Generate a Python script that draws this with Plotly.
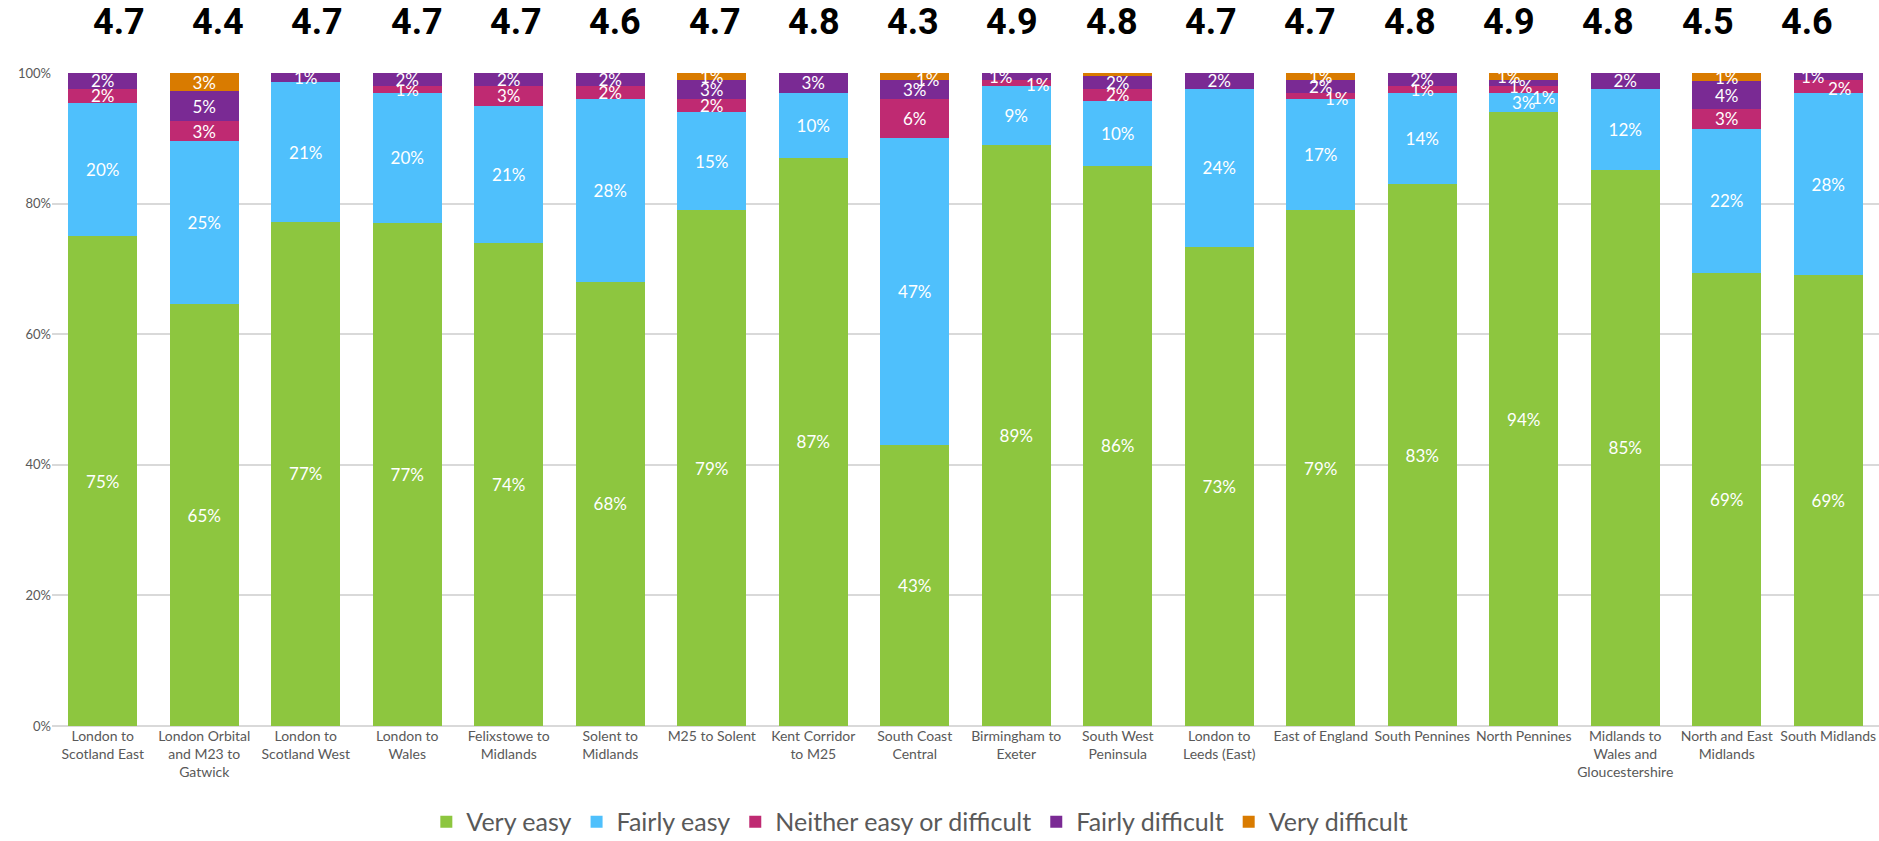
import plotly.graph_objects as go

# Route names (line breaks as they wrap under each bar)
routes = [
    "London to<br>Scotland East",
    "London Orbital<br>and M23 to<br>Gatwick",
    "London to<br>Scotland West",
    "London to<br>Wales",
    "Felixstowe to<br>Midlands",
    "Solent to<br>Midlands",
    "M25 to Solent",
    "Kent Corridor<br>to M25",
    "South Coast<br>Central",
    "Birmingham to<br>Exeter",
    "South West<br>Peninsula",
    "London to<br>Leeds (East)",
    "East of England",
    "South Pennines",
    "North Pennines",
    "Midlands to<br>Wales and<br>Gloucestershire",
    "North and East<br>Midlands",
    "South Midlands",
]

# Mean ease score shown above each route
mean_scores = ["4.7", "4.4", "4.7", "4.7", "4.7", "4.6", "4.7", "4.8", "4.3",
               "4.9", "4.8", "4.7", "4.7", "4.8", "4.9", "4.8", "4.5", "4.6"]

# Share of responses (%) per rating
very_easy = [75.0, 64.6, 77.2, 77, 74, 68, 79, 87, 43, 89, 85.8, 73.4, 79, 83, 94, 85.2, 69.3, 69]
fairly_easy = [20.4, 25.0, 21.4, 20, 21, 28, 15, 10, 47, 9, 9.9, 24.2, 17, 14, 3, 12.4, 22.2, 28]
neither = [2.2, 3.0, 0, 1, 3, 2, 2, 0, 6, 1, 1.9, 0, 1, 1, 1, 0, 3.0, 2]
fairly_difficult = [2.4, 4.6, 1.4, 2, 2, 2, 3, 3, 3, 1, 2.0, 2.4, 2, 2, 1, 2.4, 4.2, 1]
very_difficult = [0, 2.8, 0, 0, 0, 0, 1, 0, 1, 0, 0.4, 0, 1, 0, 1, 0, 1.3, 0]

series = [
    ("Very easy", very_easy, "#8DC63F"),
    ("Fairly easy", fairly_easy, "#4FC0FC"),
    ("Neither easy or difficult", neither, "#BF2A72"),
    ("Fairly difficult", fairly_difficult, "#7A2A94"),
    ("Very difficult", very_difficult, "#D97B00"),
]

# Thin segments whose labels are nudged sideways so they don't collide:
# (series name, route index) -> (x shift px, y shift px)
label_nudges = {
    ("Very difficult", 8): (13, -3),
    ("Fairly difficult", 9): (-15, 0),
    ("Neither easy or difficult", 9): (22, -2),
    ("Neither easy or difficult", 12): (16, -3),
    ("Very difficult", 14): (-15, 0),
    ("Fairly difficult", 14): (-3, -4),
    ("Neither easy or difficult", 14): (20, -8),
    ("Fairly difficult", 17): (-15, 0),
    ("Neither easy or difficult", 17): (12, -2),
}

BODY_FONT = "Lato, 'Open Sans', sans-serif"
GREY = "#595959"
LABEL_SIZE = 17

fig = go.Figure()
base = [0.0] * len(routes)
for name, vals, colour in series:
    labels = []
    for i, v in enumerate(vals):
        text = f"{round(v)}%" if v >= 0.5 else ""
        if text and (name, i) in label_nudges:
            dx, dy = label_nudges[(name, i)]
            fig.add_annotation(
                x=routes[i], y=base[i] + v / 2, xref="x", yref="y",
                text=text, showarrow=False, xshift=dx, yshift=dy,
                font=dict(color="white", size=LABEL_SIZE, family=BODY_FONT),
            )
            text = ""
        labels.append(text)
    fig.add_trace(go.Bar(
        name=name,
        x=routes,
        y=vals,
        marker=dict(color=colour, line=dict(width=0)),
        text=labels,
        textposition="inside",
        insidetextanchor="middle",
        textangle=0,
        textfont=dict(color="white", size=LABEL_SIZE, family=BODY_FONT),
        hoverinfo="skip",
    ))
    base = [b + v for b, v in zip(base, vals)]

# Mean score above each bar
for i, (route, score) in enumerate(zip(routes, mean_scores)):
    fig.add_annotation(
        x=route, xref="x", y=1.078, yref="paper",
        text=f"<b>{score}</b>", showarrow=False,
        xshift=16 - 2.2 * i, yanchor="middle",
        font=dict(size=36, color="black", family="Roboto, 'DejaVu Sans', sans-serif"),
    )

fig.update_layout(
    barmode="stack",
    bargap=0.32,
    width=1879, height=841,
    margin=dict(l=52, r=0, t=73, b=115, autoexpand=False),
    paper_bgcolor="white",
    plot_bgcolor="white",
    uniformtext=dict(minsize=LABEL_SIZE, mode="show"),
    font=dict(family=BODY_FONT, color=GREY),
    legend=dict(
        orientation="h", x=0.475, xanchor="center", y=-0.147, yanchor="middle",
        font=dict(size=25, color=GREY, family=BODY_FONT),
        traceorder="normal", itemwidth=30,
    ),
    xaxis=dict(
        type="category",
        tickfont=dict(size=14, color=GREY),
        showgrid=False, showline=False, ticks="",
        automargin=False,
    ),
    yaxis=dict(
        range=[0, 100], dtick=20, ticksuffix="%",
        tickfont=dict(size=13, color=GREY),
        showgrid=True, gridcolor="#D9D9D9", gridwidth=2,
        zeroline=True, zerolinecolor="#D9D9D9", zerolinewidth=2,
        showline=False, ticks="",
        automargin=False,
    ),
)

fig.write_html("out.html")
